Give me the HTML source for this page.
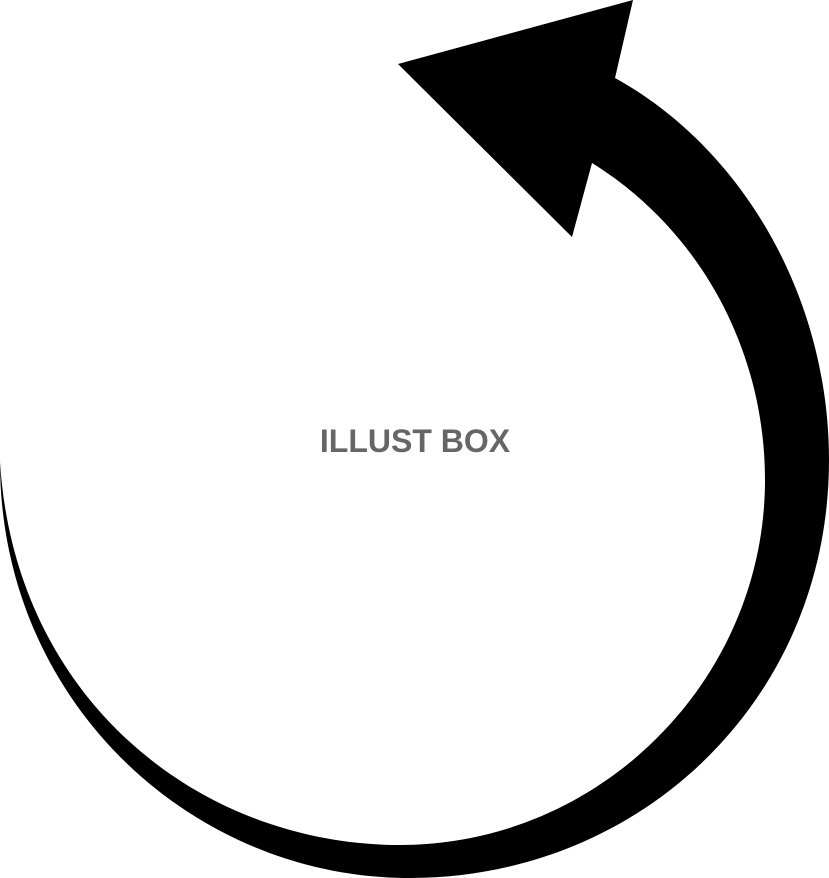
<!DOCTYPE html>
<html><head><meta charset="utf-8"><style>
html,body{margin:0;padding:0;background:#fff;width:829px;height:878px;overflow:hidden}
svg{display:block}
</style></head><body>
<svg width="829" height="878" viewBox="0 0 829 878" xmlns="http://www.w3.org/2000/svg">
<path fill="#000" d="M0,462 C0,700 190,878 410,878 C640,878 829,700 829,460 C829,300 745,150 615,78 L633,0 L398,64 L572,237 L592,163 C700,230 765,350 765,480 C765,680 600,845 400,845 C200,845 15,700 0,462 Z"/>
<text x="415" y="452" text-anchor="middle" font-family="Liberation Sans, sans-serif" font-weight="bold" font-size="32" fill="#666">ILLUST BOX</text>
</svg>
</body></html>
